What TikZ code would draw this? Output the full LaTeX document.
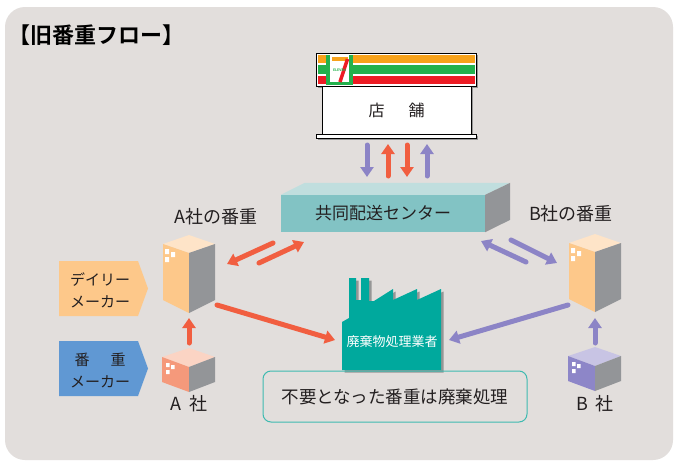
\documentclass[tikz,border=0pt]{standalone}
\usepackage{fontspec}
\setmainfont{Noto Sans CJK JP}[BoldFont={Noto Sans CJK JP Bold}]
\usetikzlibrary{arrows.meta}

\definecolor{bg}{RGB}{226,222,220}
\definecolor{ink}{RGB}{35,31,32}
\definecolor{orange7}{RGB}{247,162,27}
\definecolor{green7}{RGB}{34,177,76}
\definecolor{red7}{RGB}{237,28,36}
\definecolor{tealfront}{RGB}{130,195,196}
\definecolor{tealtop}{RGB}{192,222,222}
\definecolor{boxgray}{RGB}{147,149,152}
\definecolor{shadowgray}{RGB}{150,150,150}
\definecolor{factoryteal}{RGB}{0,169,157}
\definecolor{notecolor}{RGB}{62,186,176}
\definecolor{arrowred}{RGB}{241,94,64}
\definecolor{arrowpurple}{RGB}{140,132,198}
\definecolor{buildorange}{RGB}{253,200,138}
\definecolor{buildtop}{RGB}{254,228,200}
\definecolor{salmon}{RGB}{245,153,123}
\definecolor{salmontop}{RGB}{251,212,196}
\definecolor{lavender}{RGB}{141,134,200}
\definecolor{lavendertop}{RGB}{200,196,228}
\definecolor{makerblue}{RGB}{96,152,211}

\tikzset{
  % tall warehouse, front edge at the origin
  pics/tower/.style n args={2}{code={
    \fill[#2] (0,0) -- (-26,-9) -- (0,-18) -- (26,-9) -- cycle;
    \fill[#1] (0,0) -- (-26,-9) -- (-26,47) -- (0,60) -- cycle;
    \fill[boxgray] (0,0) -- (26,-9) -- (26,47) -- (0,60) -- cycle;
    \fill[white] (-24,-4) rectangle ++(4,5) (-18,-1) rectangle ++(4,5) (-24,4) rectangle ++(4,5);
  }},
  % low company building
  pics/crate/.style n args={2}{code={
    \fill[#2] (0,0) -- (-27,-10) -- (0,-19) -- (26,-10) -- cycle;
    \fill[#1] (0,0) -- (-27,-10) -- (-27,15) -- (0,25) -- cycle;
    \fill[boxgray] (0,0) -- (26,-10) -- (26,15) -- (0,25) -- cycle;
    \fill[white] (-23,-4) rectangle ++(3.5,4) (-18,-2) rectangle ++(3.5,4) (-23,3) rectangle ++(3.5,4);
  }},
}

\begin{document}
\begin{tikzpicture}[x=1pt, y=-1pt,
    redarrow/.style={draw=arrowred, line width=5pt, line cap=round, -{Triangle[width=13pt,length=10pt]}},
    purplearrow/.style={redarrow, draw=arrowpurple},
    lbl/.style={text=ink, inner sep=0pt, font=\fontsize{18}{21}\selectfont}]

\useasboundingbox (0,0) rectangle (675,463);
\fill[white] (0,0) rectangle (675,463);
\fill[bg, rounded corners=20pt] (5,7) rectangle (673,460);

\node[anchor=west, inner sep=0pt, font=\bfseries\fontsize{22}{26}\selectfont] (title) at (8,35) {【旧番重フロー】};

% store with sign board
\fill[shadowgray] (318,55) rectangle (478,88);
\draw[fill=white, line width=0.6pt] (316,53) rectangle (476,86);
\fill[orange7] (317.5,55) rectangle (474.5,63);
\fill[green7] (317.5,65) rectangle (474.5,74);
\fill[red7] (317.5,76) rectangle (474.5,84);
\fill[green7] (326,55) rectangle (353,85);
\fill[white] (330,55) rectangle (349,82);
\fill[orange7] (332,57) rectangle (348,60.5);
\draw[red7, line width=3.5pt] (347.5,59) -- (340,82);
\node[text=green7, inner sep=0pt, font=\bfseries\fontsize{3.5}{4}\selectfont] (eleven) at (339.5,70) {ELEVEn};
\fill[shadowgray] (324,88) rectangle (473,136);
\node[draw, fill=white, line width=0.6pt, minimum width=149pt, minimum height=48pt, inner sep=0pt,
  text=ink, font=\fontsize{16}{19}\selectfont] (store) at (396.5,110) {店\hspace{1.5em}舗};
\fill[shadowgray] (318,136) rectangle (478,140);
\draw[fill=white, line width=0.6pt] (316,134) rectangle (476,138);

% distribution center
\node[fill=tealfront, minimum width=204pt, minimum height=37pt, inner sep=0pt,
  text=ink, font=\fontsize{17}{20}\selectfont] (center) at (383,213.5) {共同配送センター};
\fill[tealtop] (center.north west) -- ++(24,-12) -- ++(205,0) -- (center.north east) -- cycle;
\fill[boxgray] (center.north east) -- ++(25,-12) -- ++(0,37) -- (center.south east) -- cycle;

% buildings
\pic at (189,253) {tower={buildorange}{buildtop}};
\pic at (595,252) {tower={buildorange}{buildtop}};
\pic at (189,367) {crate={salmon}{salmontop}};
\pic at (595,366) {crate={lavender}{lavendertop}};

\node[lbl] (lblA) at (216,217) {A社の番重};
\node[lbl] (lblB) at (571,214) {B社の番重};
\node[lbl] (compA) at (189,404) {A\hspace{0.45em}社};
\node[lbl] (compB) at (595,404) {B\hspace{0.45em}社};

% maker tags
\fill[buildorange] (59,261) -- (138,261) -- (148,288.5) -- (138,316) -- (59,316) -- cycle;
\node[text=ink, align=center, inner sep=0pt, font=\fontsize{15}{22}\selectfont] (daily) at (100,290) {デイリー\\メーカー};
\fill[makerblue] (59,341) -- (138,341) -- (148,368.5) -- (138,396) -- (59,396) -- cycle;
\node[text=ink, align=center, inner sep=0pt, font=\fontsize{15}{22}\selectfont] (maker) at (100,370) {番\hspace{1.4em}重\\メーカー};

% waste disposal plant
\foreach \d/\col in {2.5/shadowgray, 0/factoryteal}
  \fill[\col, shift={(\d,\d)}] (342,370) -- (342,322) -- (349,318) -- (349,278) -- (356,278) -- (356,300)
    -- (361,300) -- (361,278) -- (369,278) -- (369,301) -- (374,301) -- (393,289) -- (393,300)
    -- (417,289) -- (417,300) -- (441,289) -- (441,370) -- cycle;
\node[text=white, inner sep=0pt, font=\fontsize{13}{16}\selectfont] (plant) at (392,342) {廃棄物処理業者};

\node[draw=notecolor, line width=1pt, rounded corners=8pt, minimum width=264pt, minimum height=51pt,
  text=ink, font=\fontsize{17.5}{20}\selectfont] (note) at (395,396.5) {不要となった番重は廃棄処理};

% flows between store and center
\coordinate (st1) at (367,145); \coordinate (ce1) at (367,177);
\coordinate (st2) at (388,144); \coordinate (ce2) at (388,176);
\coordinate (st3) at (407,145); \coordinate (ce3) at (407,177);
\coordinate (st4) at (427,144); \coordinate (ce4) at (427,176);
\draw[purplearrow] (st1) -- (ce1);
\draw[redarrow] (ce2) -- (st2);
\draw[redarrow] (st3) -- (ce3);
\draw[purplearrow] (ce4) -- (st4);

% A side
\coordinate (cenA) at (273,243); \coordinate (towA) at (227,264);
\coordinate (towA2) at (259,263); \coordinate (cenA2) at (304,242);
\coordinate (towA3) at (217,305); \coordinate (plantA) at (335,340);
\coordinate (compA2) at (189,343); \coordinate (towA4) at (189,318);
\draw[redarrow] (cenA) -- (towA);
\draw[redarrow] (towA2) -- (cenA2);
\draw[redarrow] (towA3) -- (plantA);
\draw[redarrow] (compA2) -- (towA4);

% B side
\coordinate (cenB) at (526,262); \coordinate (towB) at (481,241);
\coordinate (cenB2) at (511,240); \coordinate (towB2) at (557,263);
\coordinate (towB3) at (568,305); \coordinate (plantB) at (449,340);
\coordinate (compB2) at (595,343); \coordinate (towB4) at (595,318);
\draw[purplearrow] (cenB) -- (towB);
\draw[purplearrow] (cenB2) -- (towB2);
\draw[purplearrow] (towB3) -- (plantB);
\draw[purplearrow] (compB2) -- (towB4);

\end{tikzpicture}
\end{document}
